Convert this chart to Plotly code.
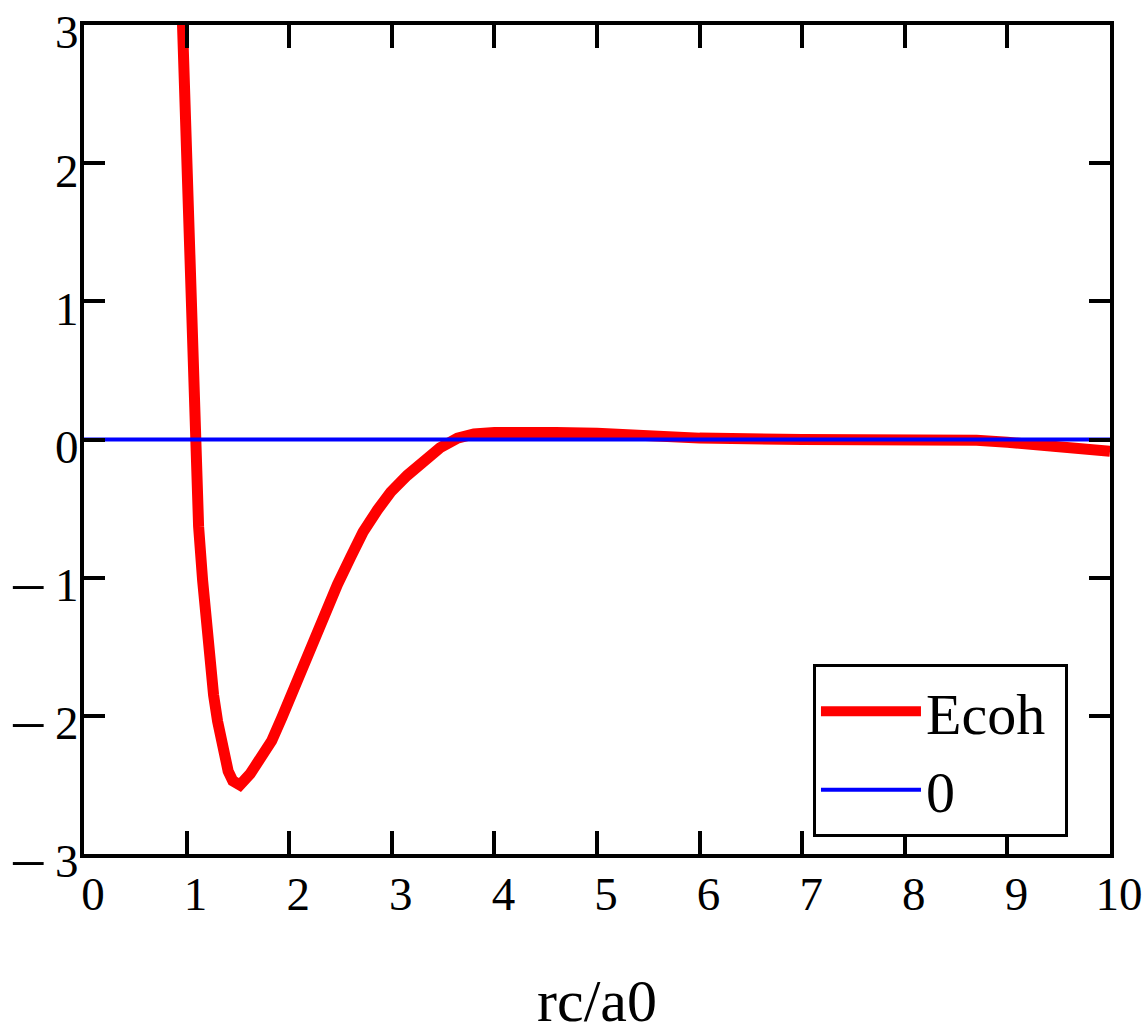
import plotly.graph_objects as go

# Cohesive energy curve Ecoh(rc/a0)
rc = [0.93, 0.97, 1.01, 1.05, 1.083, 1.117, 1.156, 1.195, 1.224, 1.263,
      1.302, 1.337, 1.371, 1.405, 1.45, 1.52, 1.62, 1.73, 1.83, 1.93,
      2.03, 2.12, 2.24, 2.35, 2.47, 2.60, 2.72, 2.86, 2.99, 3.15,
      3.31, 3.47, 3.64, 3.80, 4.0, 4.3, 4.6, 5.0, 5.3, 5.6,
      6.0, 7.0, 8.0, 8.7, 9.0, 9.3, 9.6, 9.8, 10.0]
ecoh = [3.7, 2.7, 1.7, 0.71, -0.1, -0.63, -1.02, -1.36, -1.62, -1.85,
        -2.04, -2.19, -2.31, -2.40, -2.47, -2.50, -2.42, -2.30, -2.18, -2.01,
        -1.83, -1.65, -1.46, -1.26, -1.05, -0.85, -0.67, -0.51, -0.38, -0.26,
        -0.15, -0.06, 0.01, 0.04, 0.05, 0.055, 0.05, 0.045, 0.03, 0.02,
        0.01, 0.0, 0.0, -0.005, -0.02, -0.035, -0.055, -0.065, -0.085]

# Reference line at zero
zero_x = [0, 10]
zero_y = [0, 0]

x_ticks = [0, 1, 2, 3, 4, 5, 6, 7, 8, 9, 10]
x_ticktext = ["0", "1", "2", "3", "4", "5", "6", "7", "8", "9", "10"]
y_ticks = [3, 2, 1, 0, -1, -2, -3]
# negative labels use a wide dash followed by a space, worksheet style
MINUS = "<span style='font-size:60px'>\u2013</span> "
y_ticktext = ["3", "2", "1", "0", MINUS + "1", MINUS + "2", MINUS + "3"]

serif = "Times New Roman, Liberation Serif, serif"

fig = go.Figure()
fig.add_trace(go.Scatter(x=rc, y=ecoh, mode="lines", name="Ecoh\u00a0",
                         line=dict(color="#ff0000", width=11)))
fig.add_trace(go.Scatter(x=zero_x, y=zero_y, mode="lines", name="0",
                         line=dict(color="#0000ff", width=4)))

axis_common = dict(showgrid=False, zeroline=False, showline=True,
                   linecolor="black", linewidth=4, mirror="allticks",
                   ticks="inside", tickcolor="black", tickwidth=4,
                   ticklabeloverflow="allow",
                   tickfont=dict(family=serif, size=47, color="black"))

fig.update_xaxes(range=[0, 10], tickmode="array", tickvals=x_ticks,
                 ticktext=x_ticktext, ticklen=23, ticklabelshift=9,
                 ticklabelstandoff=-4,
                 title=dict(text="rc/a0", font=dict(family=serif, size=60, color="black"),
                            standoff=62),
                 **axis_common)
fig.update_yaxes(range=[-3, 3], tickmode="array", tickvals=y_ticks,
                 ticktext=y_ticktext, ticklen=21, ticklabelshift=7,
                 ticklabelstandoff=-8,
                 **axis_common)

fig.update_layout(
    width=1148, height=1034,
    margin=dict(l=84, r=38, t=25, b=180, autoexpand=False),
    paper_bgcolor="white", plot_bgcolor="white",
    showlegend=True,
    legend=dict(x=0.7105, y=0.229, xanchor="left", yanchor="top",
                bgcolor="white", bordercolor="black", borderwidth=3,
                itemwidth=100,
                font=dict(family=serif, size=58, color="black")),
)

fig.write_html("out.html")
